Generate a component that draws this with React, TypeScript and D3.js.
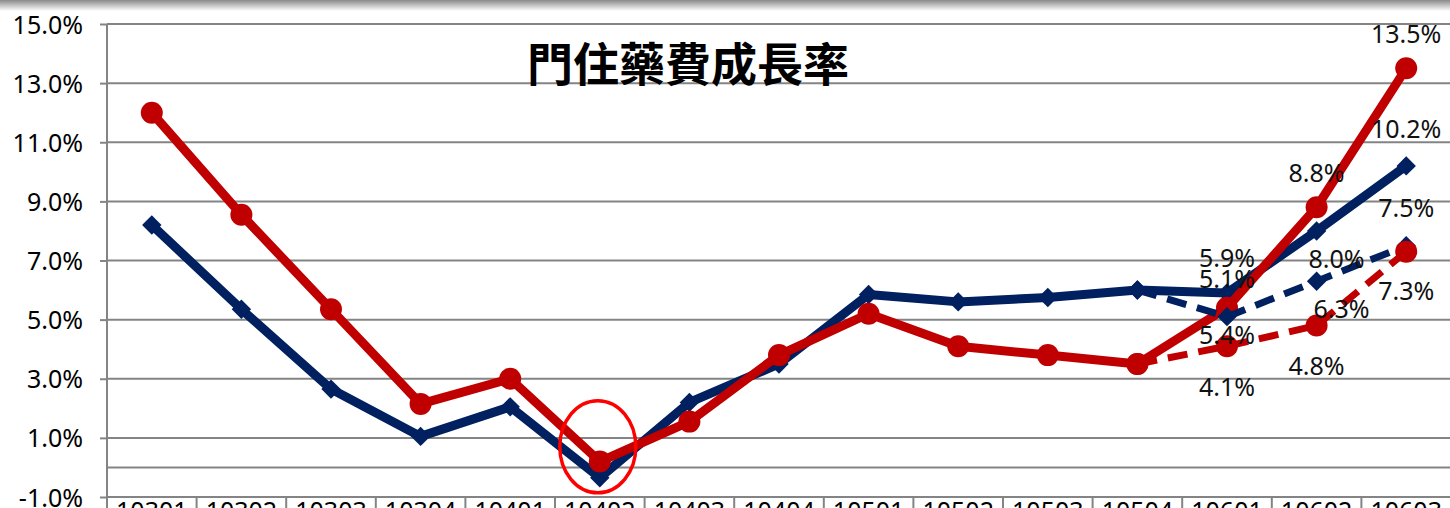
import { useEffect, useRef } from 'react';
import * as d3 from 'd3';

const categories = ['10301', '10302', '10303', '10304', '10401', '10402', '10403', '10404', '10501', '10502', '10503', '10504', '10601', '10602', '10603'];

// solid series (actual)
const redActual = [12.0, 8.55, 5.35, 2.15, 3.0, 0.2, 1.55, 3.8, 5.2, 4.1, 3.8, 3.5, 5.4, 8.8, 13.5];
const blueActual = [8.2, 5.35, 2.65, 1.05, 2.05, -0.35, 2.2, 3.5, 5.85, 5.6, 5.75, 6.0, 5.9, 8.0, 10.2];

// dashed series (start at 10504)
const dashedCategories = ['10504', '10601', '10602', '10603'];
const blueDashed = [6.0, 5.1, 6.3, 7.5];
const redDashed = [3.5, 4.1, 4.8, 7.3];

const yTicks = [-1, 1, 3, 5, 7, 9, 11, 13, 15];
const title = '門住藥費成長率';

// labelled points: [series, category, value, dx, dy]
const labels: [string, string, number, number, number][] = [
  ['red', '10601', 5.4, 0, 36],
  ['red', '10602', 8.8, 0, -25],
  ['red', '10603', 13.5, 0, -25],
  ['blue', '10601', 5.9, 0, -26],
  ['blue', '10602', 8.0, 20, 37],
  ['blue', '10603', 10.2, 0, -28],
  ['blueDash', '10601', 5.1, 0, -29],
  ['blueDash', '10602', 6.3, 25, 37],
  ['blueDash', '10603', 7.5, 0, -29],
  ['redDash', '10601', 4.1, 0, 50],
  ['redDash', '10602', 4.8, 0, 49],
  ['redDash', '10603', 7.3, 0, 48],
];

const RED = '#c00000';
const BLUE = '#002060';
const GRID = '#848484';

export default function App() {
  const svgRef = useRef<SVGSVGElement>(null);

  useEffect(() => {
    if (!svgRef.current) return;
    const W = 1450, H = 508;
    const svg = d3.select(svgRef.current);
    svg.selectAll('*').remove();
    svg.attr('width', W).attr('height', H);

    const left = 107, right = 1451, top = 24, bottom = 497;

    const x = d3.scaleBand<string>().domain(categories).range([left, right]).padding(0);
    const cx = (c: string) => (x(c) ?? 0) + x.bandwidth() / 2;
    const y = d3.scaleLinear().domain([-1, 15]).range([bottom, top]);

    // top shadow
    const defs = svg.append('defs');
    const grad = defs.append('linearGradient').attr('id', 'topShade').attr('x1', 0).attr('x2', 0).attr('y1', 0).attr('y2', 1);
    grad.append('stop').attr('offset', '0%').attr('stop-color', '#8a8a8a');
    grad.append('stop').attr('offset', '100%').attr('stop-color', '#ffffff');
    svg.append('rect').attr('x', 0).attr('y', 0).attr('width', W).attr('height', 11).style('fill', 'url(#topShade)');

    // gridlines
    svg.append('g')
      .selectAll('line')
      .data([...yTicks, 0])
      .enter()
      .append('line')
      .attr('x1', left)
      .attr('x2', W)
      .attr('y1', d => y(d))
      .attr('y2', d => y(d))
      .style('stroke', GRID)
      .style('stroke-width', 2);

    // Y axis
    const yAxis = svg.append('g')
      .attr('transform', `translate(${left},0)`)
      .call(d3.axisLeft(y).tickValues(yTicks).tickSize(7).tickPadding(17).tickFormat(d => `${(d as number).toFixed(1)}%`));
    yAxis.select('.domain').remove();
    yAxis.selectAll('.tick line').style('stroke', GRID).style('stroke-width', 2);
    yAxis.selectAll('text')
      .style('font-family', '"Noto Sans", sans-serif')
      .style('font-size', '25px')
      .style('fill', '#000')
      .attr('dy', '0.36em');
    svg.append('line')
      .attr('x1', left).attr('x2', left).attr('y1', top).attr('y2', H)
      .style('stroke', GRID).style('stroke-width', 2);

    // category separators and labels
    svg.append('g')
      .selectAll('line')
      .data(categories)
      .enter()
      .append('line')
      .attr('x1', d => (x(d) ?? 0) + x.bandwidth())
      .attr('x2', d => (x(d) ?? 0) + x.bandwidth())
      .attr('y1', bottom)
      .attr('y2', H)
      .style('stroke', GRID)
      .style('stroke-width', 2);
    svg.append('g')
      .selectAll('text')
      .data(categories)
      .enter()
      .append('text')
      .attr('x', d => cx(d))
      .attr('y', bottom + 23)
      .attr('text-anchor', 'middle')
      .style('font-family', '"Noto Sans", sans-serif')
      .style('font-size', '25px')
      .style('fill', '#000')
      .text(d => d);

    // title
    svg.append('text')
      .attr('x', 688)
      .attr('y', 81)
      .attr('text-anchor', 'middle')
      .style('font-family', '"Noto Sans CJK TC", sans-serif')
      .style('font-weight', 700)
      .style('font-size', '46px')
      .style('fill', '#000')
      .text(title);

    const line = d3.line<[string, number]>().x(d => cx(d[0])).y(d => y(d[1]));
    const diamond = d3.symbol().type(d3.symbolDiamond2).size(240);

    const drawSeries = (cats: string[], vals: number[], color: string, marker: 'circle' | 'diamond', dashed: boolean) => {
      const pts = cats.map((c, i) => [c, vals[i]] as [string, number]);
      const g = svg.append('g');
      g.append('path')
        .datum(pts)
        .attr('d', line)
        .style('fill', 'none')
        .style('stroke', color)
        .style('stroke-width', dashed ? 7 : 9)
        .style('stroke-linejoin', 'round')
        .style('stroke-dasharray', dashed ? '20 11' : null);
      if (marker === 'circle') {
        g.selectAll('circle').data(pts).enter().append('circle')
          .attr('cx', d => cx(d[0])).attr('cy', d => y(d[1])).attr('r', 11)
          .style('fill', color);
      } else {
        g.selectAll('path.m').data(pts).enter().append('path')
          .attr('class', 'm')
          .attr('transform', d => `translate(${cx(d[0])},${y(d[1])})`)
          .attr('d', diamond)
          .style('fill', color);
      }
    };

    drawSeries(categories, blueActual, BLUE, 'diamond', false);
    drawSeries(categories, redActual, RED, 'circle', false);
    drawSeries(dashedCategories, blueDashed, BLUE, 'diamond', true);
    drawSeries(dashedCategories, redDashed, RED, 'circle', true);

    // highlight ellipse around the dip
    svg.append('ellipse')
      .attr('cx', cx('10402') - 2)
      .attr('cy', y(0.7))
      .attr('rx', 38)
      .attr('ry', 46)
      .style('fill', 'none')
      .style('stroke', '#ff0000')
      .style('stroke-width', 3.5);

    // data labels
    svg.append('g')
      .selectAll('text')
      .data(labels)
      .enter()
      .append('text')
      .attr('x', d => cx(d[1]) + d[3])
      .attr('y', d => y(d[2]) + d[4])
      .attr('text-anchor', 'middle')
      .style('font-family', '"Noto Sans", sans-serif')
      .style('font-size', '25px')
      .style('fill', '#111')
      .text(d => `${d[2].toFixed(1)}%`);
  }, []);

  return (
    <div style={{ position: 'absolute', left: 0, top: 0, width: 1450, height: 508, overflow: 'hidden', background: '#fff' }}>
      <svg ref={svgRef} style={{ display: 'block' }} />
    </div>
  );
}
